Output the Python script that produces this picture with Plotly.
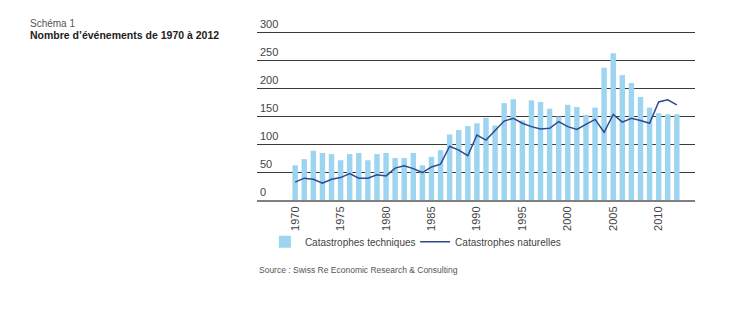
import plotly.graph_objects as go

years = list(range(1970, 2013))
techniques = [62, 73, 88, 84, 82, 71, 82, 84, 71, 82, 84, 75, 75, 84, 62, 77, 89,
              117, 125, 132, 137, 147, 133, 173, 180, 142, 178, 175, 163, 149, 170,
              166, 152, 165, 236, 262, 223, 209, 184, 165, 155, 153, 153]
naturelles = [32, 39, 37, 30, 37, 40, 47, 39, 39, 45, 43, 57, 61, 56, 49, 59, 64,
              96, 89, 79, 116, 107, 124, 141, 146, 137, 131, 127, 128, 140, 131,
              126, 135, 144, 121, 153, 139, 146, 142, 137, 175, 179, 170]
y_ticks = [0, 50, 100, 150, 200, 250, 300]
x_ticks = [1970, 1975, 1980, 1985, 1990, 1995, 2000, 2005, 2010]

FONT = "Liberation Sans, Arial, sans-serif"

fig = go.Figure()
fig.add_trace(go.Bar(
    x=years, y=techniques, name="Catastrophes techniques",
    marker=dict(color="#9dd5f0", line=dict(width=0)), width=0.6,
    legend="legend",
))
fig.add_trace(go.Scatter(
    x=years, y=naturelles, name="Catastrophes naturelles", mode="lines",
    line=dict(color="#2d4b8e", width=1.5),
    legend="legend2",
))

leg_common = dict(orientation="h", yanchor="middle", xanchor="left",
                  font=dict(size=10, color="#444444"), itemwidth=30,
                  bgcolor="rgba(0,0,0,0)", borderwidth=0)

fig.update_layout(
    width=750, height=328,
    margin=dict(l=257, r=55, t=18, b=128),
    paper_bgcolor="white", plot_bgcolor="white",
    font=dict(family=FONT, size=11, color="#333333"),
    showlegend=True,
    legend=dict(x=0.018, y=-0.229, **leg_common),
    legend2=dict(x=0.361, y=-0.229, **leg_common),
    xaxis=dict(range=[1965.8, 2014], tickvals=x_ticks, tickangle=-90,
               showgrid=False, showline=True, linecolor="#808080", linewidth=2,
               ticks="", tickfont=dict(size=11, color="#444444"), zeroline=False),
    yaxis=dict(range=[0, 325], tickvals=y_ticks, ticklabelposition="inside top",
               showgrid=True, gridcolor="#3a3a3a", gridwidth=1, zeroline=False,
               showline=False, ticks="", tickfont=dict(size=11, color="#444444")),
    bargap=0.4,
)

fig.add_annotation(text="Schéma 1", xref="paper", yref="paper", x=-0.523, y=0.9725,
                   xanchor="left", yanchor="middle", showarrow=False,
                   font=dict(size=10, color="#555555"))
fig.add_annotation(text="<b>Nombre d’événements de 1970 à 2012</b>", xref="paper", yref="paper",
                   x=-0.523, y=0.9066, xanchor="left", yanchor="middle", showarrow=False,
                   font=dict(size=10.5, color="#222222"))
fig.add_annotation(text="Source : Swiss Re Economic Research & Consulting", xref="paper", yref="paper",
                   x=0, y=-0.3846, xanchor="left", yanchor="middle", showarrow=False,
                   font=dict(size=8.5, color="#555555"))

fig.write_html("out.html")
